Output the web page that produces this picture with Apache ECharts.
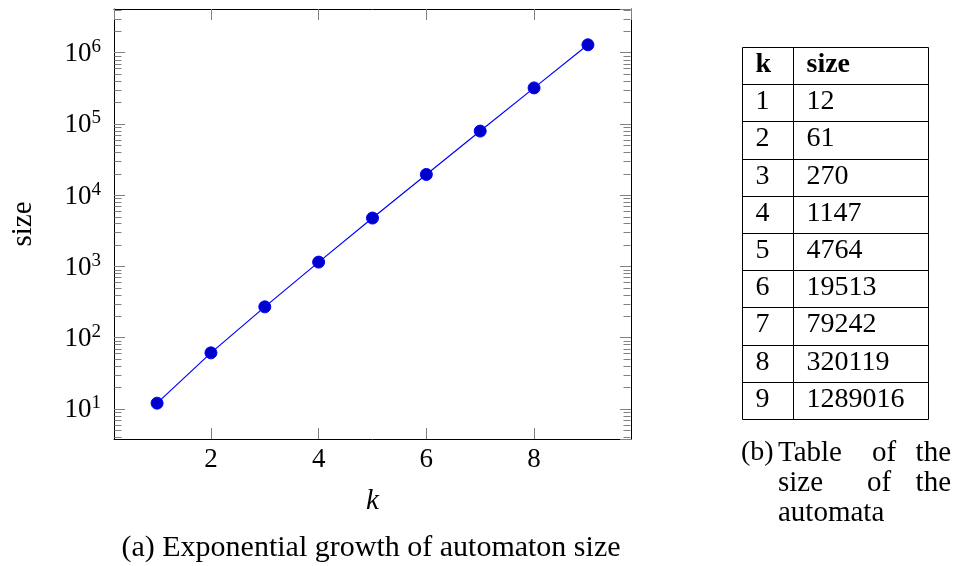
<!DOCTYPE html>
<html>
<head>
<meta charset="utf-8">
<script src="https://cdn.jsdelivr.net/npm/echarts@6/dist/echarts.min.js"></script>
<style>
html,body{margin:0;padding:0;background:#fff;}
#c{width:956px;height:566px;}
</style>
</head>
<body>
<div id="c"></div>
<script>
// ---- data ----
var kValues = [1, 2, 3, 4, 5, 6, 7, 8, 9];
var sizeValues = [12, 61, 270, 1147, 4764, 19513, 79242, 320119, 1289016];
var tableHeader = ['k', 'size'];
var xTickLabels = ['2', '4', '6', '8'];
var captionA = '(a) Exponential growth of automaton size';
var xName = 'k';
var yName = 'size';

// axis extents (pgfplots-style 10% enlargement)
var xMin = 0.2, xMax = 9.8;
var yMin = Math.pow(10, 0.576), yMax = Math.pow(10, 6.613);

// minor ticks of the log axis (2..9 x 10^n)
var minorTicks = [];
for (var n = 0; n <= 6; n++) {
  for (var m = 2; m <= 9; m++) {
    var v = m * Math.pow(10, n);
    if (v > yMin && v < yMax) minorTicks.push(v);
  }
}

var FONT = '"Liberation Serif", "DejaVu Serif", serif';
var TICK = '#808080';

var chart = echarts.init(document.getElementById('c'), null, {renderer: 'canvas'});

var tableRows = ['h'].concat(kValues.map(String));

var option = {
  animation: false,
  backgroundColor: '#fff',
  grid: [
    {left: 114, top: 9, width: 517, height: 430, outerBoundsMode: 'none', containLabel: false},
    {left: 742, top: 47, width: 186, height: 372, outerBoundsMode: 'none', containLabel: false}
  ],
  xAxis: [
    {
      gridIndex: 0, type: 'value', min: xMin, max: xMax, splitNumber: 5,
      position: 'bottom',
      name: xName, nameLocation: 'middle', nameGap: 48,
      nameTextStyle: {fontFamily: FONT, fontSize: 29, fontStyle: 'italic', color: '#000'},
      axisLine: {show: true, onZero: false, lineStyle: {color: '#000', width: 1}},
      axisTick: {show: true, inside: true, length: 11, lineStyle: {color: TICK, width: 1}},
      axisLabel: {
        show: true, margin: 7, fontFamily: FONT, fontSize: 27, color: '#000',
        showMinLabel: false, showMaxLabel: false,
        formatter: function (v) {
          var s = String(Math.round(v));
          return xTickLabels.indexOf(s) >= 0 ? s : '';
        }
      },
      splitLine: {show: false}
    },
    {
      gridIndex: 0, type: 'value', min: xMin, max: xMax, splitNumber: 5,
      position: 'top',
      axisLine: {show: true, onZero: false, lineStyle: {color: '#000', width: 1}},
      axisTick: {show: true, inside: true, length: 11, lineStyle: {color: TICK, width: 1}},
      axisLabel: {show: false},
      splitLine: {show: false}
    },
    {
      gridIndex: 1, type: 'value', min: 0, max: 1, show: false
    }
  ],
  yAxis: [
    {
      gridIndex: 0, type: 'log', logBase: 10, min: yMin, max: yMax, splitNumber: 6,
      position: 'left',
      name: yName, nameLocation: 'middle', nameGap: 76, nameRotate: 90,
      nameTextStyle: {fontFamily: FONT, fontSize: 29, color: '#000'},
      axisLine: {show: true, onZero: false, lineStyle: {color: '#000', width: 1}},
      axisTick: {show: true, inside: true, length: 11, lineStyle: {color: TICK, width: 1}},
      axisLabel: {
        show: true, margin: 13, showMinLabel: false, showMaxLabel: false,
        formatter: function (v) {
          var e = Math.round(Math.log(v) / Math.LN10);
          if (Math.abs(Math.pow(10, e) - v) / v > 1e-6) return '';
          return '{b|10}{s|' + e + '}';
        },
        rich: {
          b: {fontFamily: FONT, fontSize: 27, color: '#000', lineHeight: 30, verticalAlign: 'bottom'},
          s: {fontFamily: FONT, fontSize: 19, color: '#000', lineHeight: 19, verticalAlign: 'top'}
        }
      },
      splitLine: {show: false}
    },
    {
      gridIndex: 0, type: 'log', logBase: 10, min: yMin, max: yMax, splitNumber: 6,
      position: 'right',
      axisLine: {show: true, onZero: false, lineStyle: {color: '#000', width: 1}},
      axisTick: {show: true, inside: true, length: 11, lineStyle: {color: TICK, width: 1}},
      axisLabel: {show: false},
      splitLine: {show: false}
    },
    {
      gridIndex: 1, type: 'category', data: tableRows, inverse: true, show: false
    }
  ],
  series: [
    {
      type: 'custom',
      xAxisIndex: 0, yAxisIndex: 0,
      silent: true,
      clip: false,
      data: minorTicks.map(function (v) { return [xMin, v]; }),
      renderItem: function (params, api) {
        var cs = params.coordSys;
        var p = api.coord([api.value(0), api.value(1)]);
        var y = Math.round(p[1]) + 0.5;
        var L = Math.round(cs.x) + 0.5, R = Math.round(cs.x + cs.width) - 0.5;
        return {
          type: 'group',
          children: [
            {type: 'line', shape: {x1: L, y1: y, x2: L + 7, y2: y}, style: {stroke: TICK, lineWidth: 1}},
            {type: 'line', shape: {x1: R - 7, y1: y, x2: R, y2: y}, style: {stroke: TICK, lineWidth: 1}}
          ]
        };
      },
      z: 1
    },
    {
      type: 'line',
      xAxisIndex: 0, yAxisIndex: 0,
      data: kValues.map(function (k, i) { return [k, sizeValues[i]]; }),
      symbol: 'circle',
      symbolSize: 12,
      showAllSymbol: true,
      lineStyle: {color: '#0000ff', width: 1.2},
      itemStyle: {color: '#0000cc', borderColor: '#0000ff', borderWidth: 1},
      z: 3
    },
    {
      type: 'custom',
      xAxisIndex: 2, yAxisIndex: 2,
      silent: true,
      clip: false,
      data: tableRows.map(function (r, i) { return [0, i]; }),
      renderItem: function (params, api) {
        var cs = params.coordSys;
        var i = params.dataIndex;
        var c = api.coord([0, api.value(1)]);
        var h = api.size([0, 1])[1];
        var top = Math.round(c[1] - h / 2) + 0.5;
        var bot = Math.round(c[1] + h / 2) + 0.5;
        var L = Math.round(cs.x) + 0.5;
        var R = Math.round(cs.x + cs.width) + 0.5;
        var D = Math.round(cs.x + cs.width * 51 / 186) + 0.5;
        var header = i === 0;
        var t1 = header ? tableHeader[0] : String(kValues[i - 1]);
        var t2 = header ? tableHeader[1] : String(sizeValues[i - 1]);
        var ty = c[1] - 1;
        var st = {stroke: '#000', lineWidth: 1};
        return {
          type: 'group',
          children: [
            {type: 'line', shape: {x1: L, y1: top, x2: R, y2: top}, style: st},
            {type: 'line', shape: {x1: L, y1: bot, x2: R, y2: bot}, style: st},
            {type: 'line', shape: {x1: L, y1: top, x2: L, y2: bot}, style: st},
            {type: 'line', shape: {x1: D, y1: top, x2: D, y2: bot}, style: st},
            {type: 'line', shape: {x1: R, y1: top, x2: R, y2: bot}, style: st},
            {type: 'text', style: {x: L + 13, y: ty, text: t1, fill: '#000',
              font: (header ? 'bold ' : '') + '28px ' + FONT, textAlign: 'left', textVerticalAlign: 'middle'}},
            {type: 'text', style: {x: D + 13, y: ty, text: t2, fill: '#000',
              font: (header ? 'bold ' : '') + '28px ' + FONT, textAlign: 'left', textVerticalAlign: 'middle'}}
          ]
        };
      }
    }
  ],
  graphic: [
    {type: 'text', x: 371, y: 548, style: {text: captionA, font: '30px ' + FONT, fill: '#000', textAlign: 'center', textVerticalAlign: 'middle'}},
    {type: 'text', x: 741, y: 453, style: {text: '(b)', font: '28px ' + FONT, fill: '#000', textAlign: 'left', textVerticalAlign: 'middle'}},
    {type: 'text', x: 778, y: 453, style: {text: 'Table', font: '29px ' + FONT, fill: '#000', textAlign: 'left', textVerticalAlign: 'middle'}},
    {type: 'text', x: 872, y: 453, style: {text: 'of', font: '29px ' + FONT, fill: '#000', textAlign: 'left', textVerticalAlign: 'middle'}},
    {type: 'text', x: 951, y: 453, style: {text: 'the', font: '29px ' + FONT, fill: '#000', textAlign: 'right', textVerticalAlign: 'middle'}},
    {type: 'text', x: 778, y: 483, style: {text: 'size', font: '29px ' + FONT, fill: '#000', textAlign: 'left', textVerticalAlign: 'middle'}},
    {type: 'text', x: 867, y: 483, style: {text: 'of', font: '29px ' + FONT, fill: '#000', textAlign: 'left', textVerticalAlign: 'middle'}},
    {type: 'text', x: 951, y: 483, style: {text: 'the', font: '29px ' + FONT, fill: '#000', textAlign: 'right', textVerticalAlign: 'middle'}},
    {type: 'text', x: 778, y: 513, style: {text: 'automata', font: '29px ' + FONT, fill: '#000', textAlign: 'left', textVerticalAlign: 'middle'}}
  ]
};
chart.setOption(option);
</script>
</body>
</html>
